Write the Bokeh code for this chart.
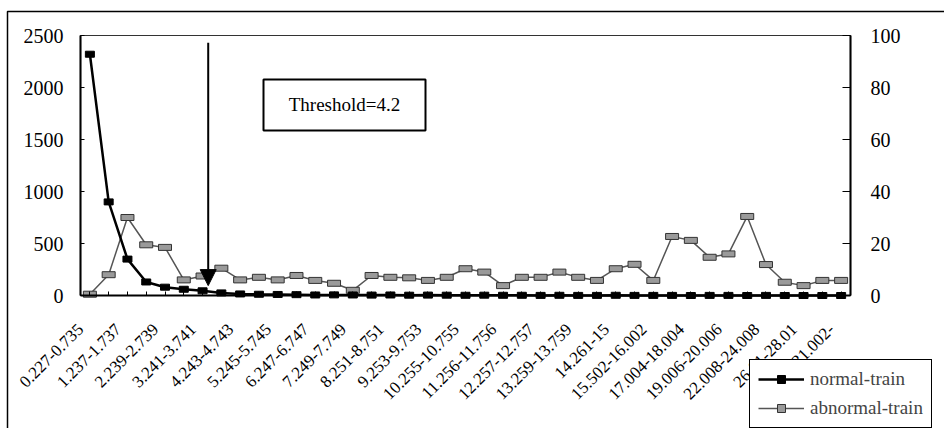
import math
from bokeh.plotting import figure
from bokeh.models import (Range1d, LinearAxis, FixedTicker, Legend, LegendItem,
                          Arrow, NormalHead, BoxAnnotation, Label)
from bokeh.embed import file_html
from bokeh.resources import INLINE

# ---- data ----
tick_labels = ["0.227-0.735", "1.237-1.737", "2.239-2.739", "3.241-3.741", "4.243-4.743",
               "5.245-5.745", "6.247-6.747", "7.249-7.749", "8.251-8.751", "9.253-9.753",
               "10.255-10.755", "11.256-11.756", "12.257-12.757", "13.259-13.759", "14.261-15",
               "15.502-16.002", "17.004-18.004", "19.006-20.006", "22.008-24.008", "26.01-28.01",
               "31.002-"]
normal_train = [2320, 900, 350, 130, 80, 60, 45, 25, 15, 12, 10, 8, 5, 6, 5, 4, 5, 3, 4, 3,
                2, 3, 2, 2, 1, 2, 1, 1, 2, 1, 1, 1, 0, 1, 1, 0, 1, 0, 0, 0, 0]
abnormal_train = [0.5, 8, 30, 19.5, 18.5, 6, 7.5, 10.5, 6, 7, 6, 7.7, 5.8, 4.7, 2, 7.7, 7, 6.8,
                  5.8, 7, 10.3, 9, 3.8, 7, 7, 9, 7, 5.8, 10.3, 12, 5.8, 22.7, 21.2, 14.7, 16,
                  30.4, 11.9, 5.1, 3.8, 5.8, 5.8]
left_ticks = [0, 500, 1000, 1500, 2000, 2500]
right_ticks = [0, 20, 40, 60, 80, 100]
threshold_x = 6.3
threshold_text = "Threshold=4.2"

n = len(normal_train)
xs = list(range(n))
FONT = "Liberation Serif"

# ---- layout (pixels) ----
W, H = 944, 428
PL, PR, PT, PB = 80, 850, 35, 295          # plot area box in canvas pixels
YMAX, RMAX = left_ticks[-1], right_ticks[-1]
ux = (PR - PL) / n                          # px per category
uy = YMAX / (PB - PT)                       # left units per px
ur = RMAX / (PB - PT)                       # right units per px
x0 = -0.5 - PL / ux
x1 = n - 0.5 + (W - PR) / ux
y1 = YMAX + PT * uy
y0 = -(H - PB) * uy


def px_x(px):
    return x0 + px / ux


def px_y(py):
    return y1 - py * uy


p = figure(width=W, height=H, output_backend="svg", toolbar_location=None,
           x_range=Range1d(x0, x1), y_range=Range1d(y0, y1),
           min_border=0, min_border_left=0, min_border_right=0,
           min_border_top=0, min_border_bottom=0)
p.extra_y_ranges = {"right": Range1d(-(H - PB) * ur, RMAX + PT * ur)}
p.grid.visible = False
p.outline_line_color = None
p.background_fill_color = "white"
p.border_fill_color = "white"

# x axis: line and tick marks
xa = p.xaxis[0]
xa.fixed_location = 0
xa.bounds = (-0.5, n - 0.5)
xa.ticker = FixedTicker(ticks=xs[::2], minor_ticks=xs[1::2])
xa.major_label_text_font_size = "0px"
xa.major_label_text_alpha = 0
xa.major_tick_in = 4
xa.major_tick_out = 0
xa.minor_tick_in = 4
xa.minor_tick_out = 0
xa.axis_line_width = 2

# x axis: category labels (anchored half a category to the left, as in the chart)
label_pos = [i - 0.5 for i in xs[::2]]
xl = LinearAxis(fixed_location=0, ticker=FixedTicker(ticks=label_pos, minor_ticks=[]),
                major_label_overrides={pos: lab for pos, lab in zip(label_pos, tick_labels)})
xl.axis_line_color = None
xl.major_tick_line_color = None
xl.minor_tick_line_color = None
xl.major_label_orientation = math.pi / 4
xl.major_label_text_font = FONT
xl.major_label_text_font_size = "17px"
xl.major_label_text_color = "black"
xl.major_label_standoff = 25
p.add_layout(xl, "below")

# left axis
ya = p.yaxis[0]
ya.fixed_location = -0.5
ya.bounds = (0, YMAX)
ya.ticker = FixedTicker(ticks=left_ticks)
ya.major_label_text_font = FONT
ya.major_label_text_font_size = "20px"
ya.major_label_text_color = "black"
ya.major_tick_in = 4
ya.major_tick_out = 0
ya.minor_tick_line_color = None
ya.major_label_standoff = 17
ya.axis_line_width = 2

# right axis
ra = LinearAxis(y_range_name="right", ticker=FixedTicker(ticks=right_ticks),
                fixed_location=n - 0.5, bounds=(0, RMAX))
ra.major_label_text_font = FONT
ra.major_label_text_font_size = "20px"
ra.major_label_text_color = "black"
ra.major_tick_in = 8
ra.major_tick_out = 0
ra.minor_tick_line_color = None
ra.major_label_standoff = 20
ra.axis_line_width = 2
p.add_layout(ra, "right")

# plot-area box (top / right edges)
p.add_layout(BoxAnnotation(left=-0.5, right=n - 0.5, bottom=0, top=YMAX,
                           fill_alpha=0, line_color="#333333", line_alpha=1, line_width=1.2,
                           level="underlay"))

# series
r_ab_line = p.line(xs, abnormal_train, y_range_name="right", line_color="#555555", line_width=1.5)
p.rect(xs, abnormal_train, y_range_name="right", width=13, height=6,
       width_units="screen", height_units="screen",
       fill_color="#9a9a9a", line_color="#333333", line_width=1)
r_n_line = p.line(xs, normal_train, line_color="black", line_width=2.5)
p.rect(xs, normal_train, width=9, height=6, width_units="screen", height_units="screen",
       fill_color="black", line_color="black")

# legend proxies (no data points)
nan = float("nan")
lg_n = p.scatter([nan], [nan], marker="square", fill_color="black", line_color="black")
lg_a = p.scatter([nan], [nan], marker="square", fill_color="#9a9a9a", line_color="#333333",
                 y_range_name="right")

# threshold arrow
p.add_layout(Arrow(end=NormalHead(size=16, fill_color="black", line_color="black"),
                   x_start=threshold_x, y_start=2430, x_end=threshold_x, y_end=95,
                   line_color="black", line_width=2))

# text box
p.add_layout(BoxAnnotation(left=px_x(263), right=px_x(425), top=px_y(79), bottom=px_y(130),
                           fill_color="white", fill_alpha=1, line_color="black",
                           line_alpha=1, line_width=2))
p.add_layout(Label(x=px_x(344), y=px_y(104), text=threshold_text, text_align="center",
                   text_baseline="middle", text_font=FONT, text_font_size="19px",
                   text_color="black"))

# outer chart border
p.add_layout(BoxAnnotation(left=px_x(7), right=px_x(W + 50), top=px_y(11), bottom=px_y(H + 50),
                           fill_alpha=0, line_color="black", line_alpha=1, line_width=1.5))

legend = Legend(items=[LegendItem(label="normal-train", renderers=[r_n_line, lg_n]),
                       LegendItem(label="abnormal-train", renderers=[r_ab_line, lg_a])],
                location=(749, 0), label_text_font=FONT, label_text_font_size="19px",
                glyph_width=46, glyph_height=20, label_height=20, label_standoff=6,
                spacing=7, padding=8, margin=0, border_line_color="black",
                border_line_width=1.5, border_line_alpha=1, background_fill_alpha=1)
p.add_layout(legend, "center")

open("out.html", "w").write(file_html(p, INLINE))
